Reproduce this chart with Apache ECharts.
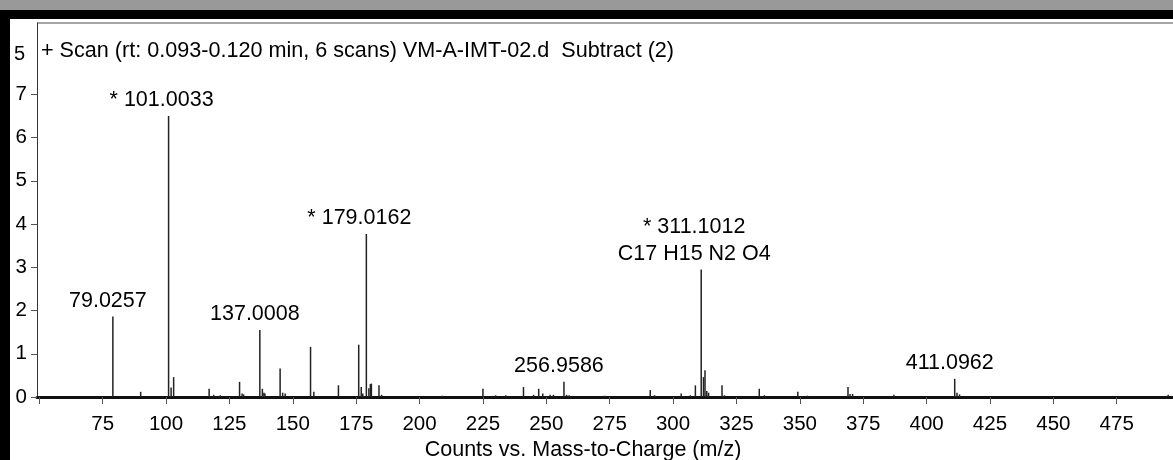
<!DOCTYPE html>
<html>
<head>
<meta charset="utf-8">
<script src="https://cdn.jsdelivr.net/npm/echarts@6/dist/echarts.min.js"></script>
<style>
html, body { margin: 0; padding: 0; background: #000; width: 1173px; height: 460px; overflow: hidden; }
#band { position: absolute; left: 0; top: 0; width: 1173px; height: 10px; background: #999; }
#chart { position: absolute; left: 10px; top: 19px; width: 1163px; height: 441px; background: #fff; }
</style>
</head>
<body>
<div id="band"></div>
<div id="chart"></div>
<script>
// peaks (intensity in x10^5 counts)
const peakMz = [
  79.0257, 90.0, 101.0033, 102.0, 103.0, 117.0, 118.8, 121.4, 129.0, 130.0, 130.6,
  137.0008, 138.0, 138.6, 139.0, 145.0, 146.0, 147.0, 157.0, 158.3, 168.0,
  176.0, 177.0, 177.6, 179.0162, 180.0, 180.6, 181.0, 184.0, 185.0, 209.0,
  225.0, 230.0, 234.0, 241.0, 245.0, 247.0, 248.6, 251.5, 252.8, 256.9586,
  258.0, 259.0, 273.0, 291.0, 292.7, 303.2, 306.8, 308.8, 311.1012, 312.0,
  312.6, 313.3, 314.0, 319.3, 320.3, 334.0, 336.0, 349.2, 353.0, 369.0,
  369.8, 370.8, 387.1, 411.0962, 412.0, 413.0, 495.3
];
const peakIntensity = [
  1.86, 0.12, 6.50, 0.22, 0.46, 0.19, 0.05, 0.04, 0.35, 0.08, 0.06,
  1.55, 0.19, 0.10, 0.08, 0.66, 0.10, 0.08, 1.16, 0.12, 0.27,
  1.21, 0.23, 0.08, 3.77, 0.20, 0.30, 0.31, 0.27, 0.05, 0.03,
  0.19, 0.04, 0.04, 0.23, 0.05, 0.19, 0.08, 0.05, 0.05, 0.35,
  0.05, 0.04, 0.03, 0.16, 0.04, 0.08, 0.04, 0.27, 2.95, 0.46,
  0.62, 0.14, 0.10, 0.27, 0.04, 0.19, 0.04, 0.12, 0.03, 0.23,
  0.07, 0.07, 0.05, 0.42, 0.10, 0.06, 0.05
];
const labelMz = [79.0257, 101.0033, 137.0008, 179.0162, 256.9586, 311.1012, 411.0962];
const labelText = ['79.0257', '* 101.0033', '137.0008', '* 179.0162', '256.9586',
  '* 311.1012\nC17 H15 N2 O4', '411.0962'];
const xTicks = [50, 75, 100, 125, 150, 175, 200, 225, 250, 275, 300, 325, 350, 375, 400, 425, 450, 475];
const xTickLabels = [75, 100, 125, 150, 175, 200, 225, 250, 275, 300, 325, 350, 375, 400, 425, 450, 475];
const yTicks = [0, 1, 2, 3, 4, 5, 6, 7];

const font = 'Liberation Sans, Arial, sans-serif';

const seriesData = peakMz.map((mz, i) => {
  const item = { value: [mz, peakIntensity[i]] };
  const k = labelMz.indexOf(mz);
  if (k >= 0) {
    item.label = {
      show: true,
      formatter: labelText[k],
      offset: [labelText[k].startsWith('*') ? -7 : -5, 0]
    };
  }
  return item;
});

const chart = echarts.init(document.getElementById('chart'));
chart.setOption({
  animation: false,
  title: {
    text: '+ Scan (rt: 0.093-0.120 min, 6 scans) VM-A-IMT-02.d  Subtract (2)',
    left: 31,
    top: 21,
    padding: 0,
    textStyle: { fontSize: 21.6, fontWeight: 'normal', color: '#000', fontFamily: font }
  },
  graphic: [
    { type: 'line', shape: { x1: 27, y1: 4, x2: 1163, y2: 4 }, style: { stroke: '#888', lineWidth: 1.5 } },
    { type: 'text', left: 4, top: 25, style: { text: '5', fontSize: 20, fill: '#000', fontFamily: font } }
  ],
  grid: { left: 27, top: 4, right: 0, bottom: 63, outerBoundsMode: 'none' },
  xAxis: {
    type: 'value',
    min: 49.1,
    max: 497.2,
    name: 'Counts vs. Mass-to-Charge (m/z)',
    nameLocation: 'middle',
    nameGap: 42,
    nameMoveOverlap: false,
    nameTextStyle: { fontSize: 21.5, color: '#000', fontFamily: font, padding: [0, 44, 0, 0] },
    axisLine: { onZero: false, lineStyle: { color: '#111', width: 3 } },
    axisTick: { customValues: xTicks, length: 7, lineStyle: { color: '#555' } },
    axisLabel: { customValues: xTickLabels, fontSize: 20.5, color: '#000', fontFamily: font, margin: 17 },
    splitLine: { show: false }
  },
  yAxis: {
    type: 'value',
    min: 0,
    max: 8.65,
    axisLine: { show: true, lineStyle: { color: '#333' } },
    axisTick: { show: true, customValues: yTicks, length: 6, lineStyle: { color: '#555' } },
    axisLabel: { customValues: yTicks, fontSize: 20.5, color: '#000', fontFamily: font, margin: 10 },
    splitLine: { show: false }
  },
  series: [{
    type: 'bar',
    barWidth: 1.5,
    itemStyle: { color: '#222' },
    label: {
      show: false,
      position: 'top',
      distance: 2,
      fontSize: 21.5,
      lineHeight: 27,
      color: '#000',
      fontFamily: font
    },
    data: seriesData
  }]
});
</script>
</body>
</html>
